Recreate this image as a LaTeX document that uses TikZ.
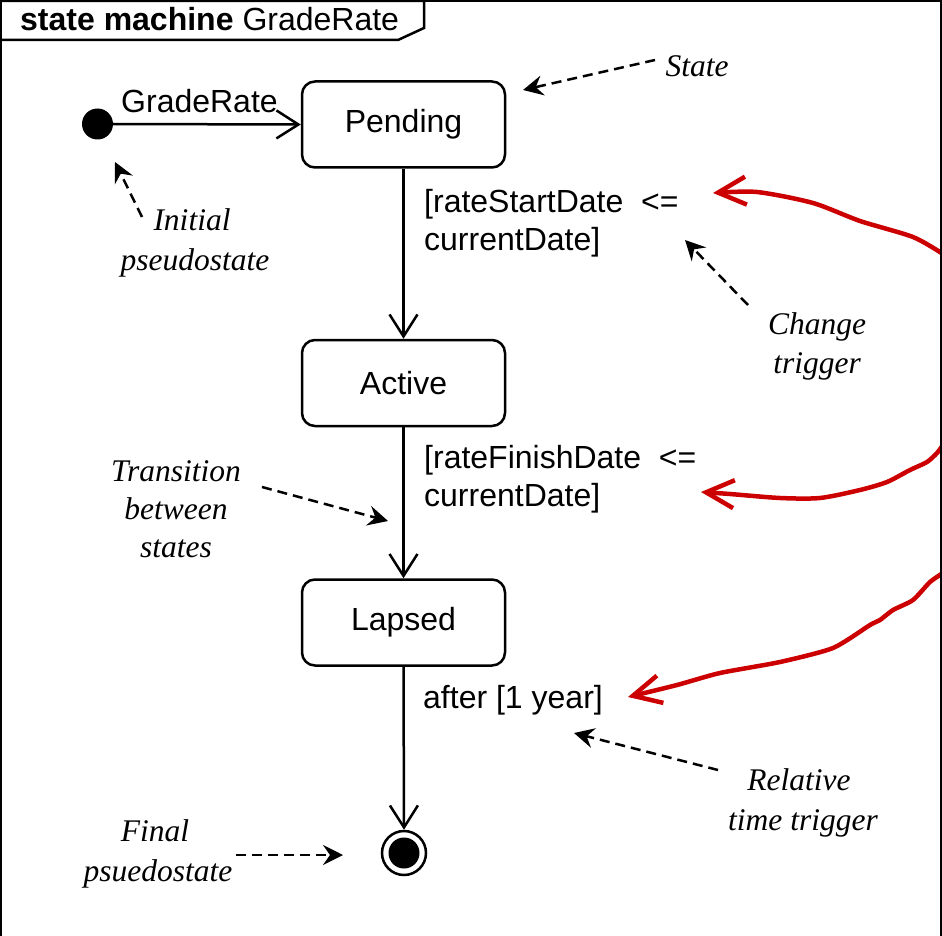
\documentclass[tikz,border=0pt]{standalone}
\usepackage{fontspec}
\setmainfont{Liberation Sans}
\newfontfamily\annfont{Liberation Serif}
\usetikzlibrary{arrows.meta}
\definecolor{redpen}{RGB}{204,0,0}
\begin{document}
\begin{tikzpicture}[x=1pt,y=-1pt,
  statebox/.style={draw, line width=2.5pt, rounded corners=13pt, minimum width=203pt, minimum height=86pt, inner sep=0pt, font=\fontsize{32}{36}\selectfont},
  lbl/.style={inner sep=0pt, anchor=base west, font=\fontsize{32}{36}\selectfont},
  ann/.style={inner sep=0pt, anchor=base, font=\annfont\itshape\fontsize{31.5}{38}\selectfont},
  trans/.style={line width=2.5pt, -{Straight Barb[length=22pt,width=28pt,line width=2.5pt]}},
  annarrow/.style={line width=2.5pt, dash pattern=on 10pt off 6pt, -{Stealth[length=20pt,width=20pt,inset=7pt]}},
  redarrow/.style={draw=redpen, line width=4.5pt, line cap=round, line join=round, -{Straight Barb[length=28pt,width=28pt,line width=4.5pt]}}
]
\useasboundingbox (0,0) rectangle (942,936);
\fill[white] (0,0) rectangle (942,936);

% red hand-drawn arrows
\draw[redarrow] plot[smooth, tension=0.45] coordinates {(943,254) (913,237) (860,221) (813,203) (757,192) (713,193)};
\draw[redarrow] plot[smooth, tension=0.45] coordinates {(943,445) (937,453) (927,462) (910,470) (887,482) (860,490) (820,498) (780,498) (730,494) (701,492)};
\draw[redarrow] plot[smooth, tension=0.4] coordinates {(943,573) (930,582) (913,600) (893,610) (880,620) (870,625) (833,648) (780,662) (720,673) (677,685) (628,697)};

% frame
\draw[line width=2.5pt] (1,1) rectangle (941,980);
\draw[line width=2.5pt] (1,1) -- (424,1) -- (424,28) -- (398,40) -- (1,40);
\node[inner sep=0pt, anchor=base west, font=\fontsize{32}{36}\selectfont] (title) at (20,31) {\textbf{state machine} GradeRate};

% states
\node[statebox] (pending) at (403.5,124.5) {Pending};
\node[statebox] (active) at (403.5,383) {Active};
\node[statebox] (lapsed) at (403.5,622.5) {Lapsed};
\fill (97.5,124) circle (15.5pt);
\node[circle, minimum size=31pt, inner sep=0pt] (initn) at (97.5,124) {};
\node[circle, draw, line width=2.5pt, minimum size=44pt, inner sep=0pt] (final) at (404,853) {};
\fill (final.center) circle (15.5pt);

% transitions
\draw[trans] (initn.east) -- (pending.west);
\node[lbl] (lgr) at (121,113) {GradeRate};
\draw[trans] (pending.south) -- (active.north);
\draw[trans] (active.south) -- (lapsed.north);
\draw[trans] (lapsed.south) -- (final.north);

\node[lbl] (l1a) at (424,212) {[rateStartDate\ \ <=};
\node[lbl] (l1b) at (424,250) {currentDate]};
\node[lbl] (l2a) at (424,468) {[rateFinishDate\ \ <=};
\node[lbl] (l2b) at (424,506) {currentDate]};
\node[lbl] (l3) at (423,708) {after [1 year]};

% annotations
\node[ann] (aState) at (697,77) {State};
\node[ann] (aInit1) at (192,230) {Initial};
\node[ann] (aInit2) at (195,270) {pseudostate};
\node[ann] (aCh1) at (817,334) {Change};
\node[ann] (aCh2) at (817,373) {trigger};
\node[ann] (aTr1) at (176,481) {Transition};
\node[ann] (aTr2) at (176,519) {between};
\node[ann] (aTr3) at (176,557) {states};
\node[ann] (aRel1) at (799,790) {Relative};
\node[ann] (aRel2) at (803,830) {time trigger};
\node[ann] (aFin1) at (155,841) {Final};
\node[ann] (aFin2) at (158,881) {psuedostate};

\coordinate (sA) at (655,60);  \coordinate (eA) at (523,90);
\coordinate (sB) at (142,217); \coordinate (eB) at (115,162);
\coordinate (sC) at (748,305); \coordinate (eC) at (685,240);
\coordinate (sD) at (262,487); \coordinate (eD) at (388,521);
\coordinate (sE) at (718,770); \coordinate (eE) at (574,733);
\coordinate (sF) at (236,855); \coordinate (eF) at (343,855);
\draw[annarrow] (sA) -- (eA);
\draw[annarrow] (sB) -- (eB);
\draw[annarrow] (sC) -- (eC);
\draw[annarrow] (sD) -- (eD);
\draw[annarrow] (sE) -- (eE);
\draw[annarrow] (sF) -- (eF);
\end{tikzpicture}
\end{document}
